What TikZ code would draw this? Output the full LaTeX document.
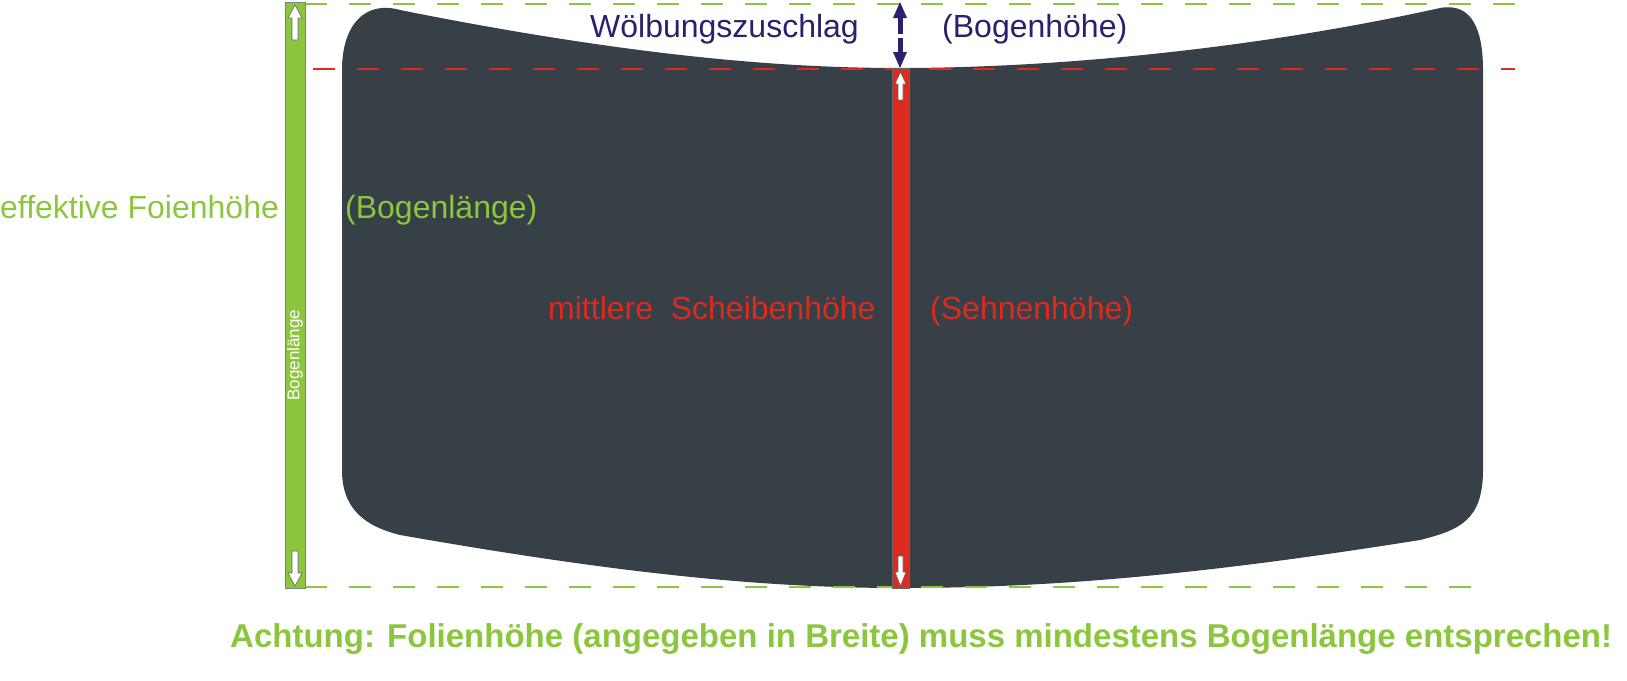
\documentclass[tikz,border=0pt]{standalone}
\usepackage{fontspec}
\setmainfont{Liberation Sans}
\definecolor{glass}{HTML}{373F47}
\definecolor{grn}{HTML}{8CC63F}
\definecolor{rd}{HTML}{DD2A1E}
\definecolor{navy}{HTML}{2B1F6E}
\tikzset{
  lbl/.style={inner sep=0pt,font=\fontsize{32}{36}\selectfont},
  wa/.style={fill=white,draw=black!60,line width=0.6pt},
  dsh/.style={line width=2pt,dash pattern=on 22pt off 22pt}
}
\begin{document}
\begin{tikzpicture}[x=1pt,y=-1pt]
\useasboundingbox (0,0) rectangle (1627,680);
% glass
\fill[glass] (400,10) .. controls (650,60) and (800,68) .. (900,68)
  .. controls (1050,68) and (1250,50) .. (1440,8)
  .. controls (1472,2) and (1483,30) .. (1483,70)
  -- (1483,470) .. controls (1483,520) and (1460,530) .. (1420,540)
  .. controls (1200,575) and (1050,588) .. (900,588)
  .. controls (750,588) and (600,570) .. (400,535)
  .. controls (360,525) and (342,505) .. (342,470)
  -- (342,70) .. controls (342,25) and (365,0) .. (400,10) -- cycle;
% dashed lines
\draw[grn,dsh] (305,4) -- (1515,4);
\draw[grn,dsh] (305,587) -- (1480,587);
\draw[rd,dsh,dash phase=-5pt] (308,69) -- (1515,69);
% green bar
\node[draw=black!50,fill=grn,minimum width=20pt,minimum height=586pt,inner sep=0pt,anchor=north west] (gbar) at (285,2) {};
\draw[wa] (295,5) -- (302,18) -- (298,18) -- (298,40) -- (292,40) -- (292,18) -- (288,18) -- cycle;
\draw[wa] (295,586) -- (302,573) -- (298,573) -- (298,551) -- (292,551) -- (292,573) -- (288,573) -- cycle;
\node[rotate=90,text=white,font=\fontsize{17}{20}\selectfont,inner sep=0pt] (bl) at (295,355) {Bogenlänge};
% red bar
\node[draw=black!60,fill=rd,minimum width=17pt,minimum height=520pt,inner sep=0pt,anchor=north west] (rbar) at (892,68) {};
\draw[wa] (900.5,72) -- (906,84) -- (903,84) -- (903,100) -- (898,100) -- (898,84) -- (895,84) -- cycle;
\draw[wa] (900.5,586) -- (906,572) -- (903,572) -- (903,556) -- (898,556) -- (898,572) -- (895,572) -- cycle;
% blue arrow
\coordinate (bt) at (900,2);
\coordinate (bb) at (900,68);
\fill[navy] (bt) -- (907,18) -- (893,18) -- cycle;
\fill[navy] (897.5,18) rectangle (902.5,34);
\fill[navy] (bb) -- (907,52) -- (893,52) -- cycle;
\fill[navy] (897.5,38) rectangle (902.5,52);
% texts
\node[lbl,text=navy,anchor=base west] (w) at (590,37) {Wölbungszuschlag};
\node[lbl,text=navy,anchor=base west] (bh) at (942,37) {(Bogenhöhe)};
\node[lbl,text=grn,anchor=base west] (ef) at (0,218) {effektive Foienhöhe};
\node[lbl,text=grn,anchor=base west] (bg) at (345,218) {(Bogenlänge)};
\node[lbl,text=rd,anchor=base west] (mh) at (548,319) {mittlere\ \ Scheibenhöhe};
\node[lbl,text=rd,anchor=base west] (sh) at (930,319) {(Sehnenhöhe)};
\node[lbl,text=grn,anchor=base west,font=\bfseries\fontsize{33}{38}\selectfont] (ach) at (230,647) {Achtung: Folienhöhe (angegeben in Breite) muss mindestens Bogenlänge entsprechen!};
\end{tikzpicture}
\end{document}
